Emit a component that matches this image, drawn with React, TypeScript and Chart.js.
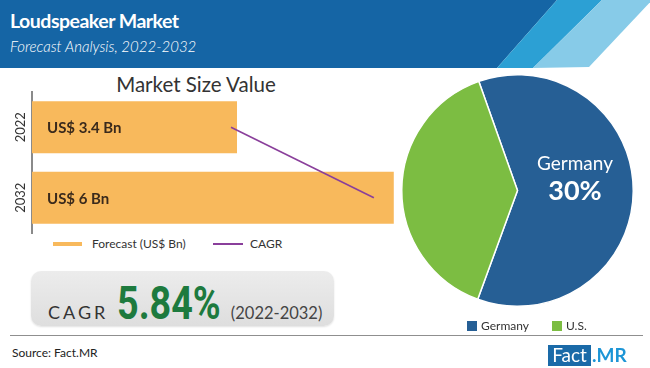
import React, { useEffect, useRef } from "react";
import { Chart, registerables } from "chart.js";

Chart.register(...registerables);

// ---- data ----
const years = ["2022", "2032"];
const forecastValues = [3.4, 6];
const cagrLineValues = [3.3, 5.67];
const barValueLabels = ["US$ 3.4 Bn", "US$ 6 Bn"];
const legendLabels = ["Forecast (US$ Bn)", "CAGR"];
const pieLabels = ["Germany", "U.S."];
const pieValues = [61, 39];
const germanyShareText = "30%";
const cagrText = "5.84%";
const cagrPeriod = "(2022-2032)";

const BAR_COLOR = "#f8b95c";
const LINE_COLOR = "#8a3f9b";
const PIE_COLORS = ["#265f95", "#7cbd42"];
const FONT = "Lato, 'Open Sans', sans-serif";

function BarChart() {
  const ref = useRef<HTMLCanvasElement | null>(null);
  useEffect(() => {
    if (!ref.current) return;
    const labelPlugin = {
      id: "barLabels",
      afterDatasetsDraw(chart: any) {
        const ctx = chart.ctx;
        const yScale = chart.scales.y;
        const area = chart.chartArea;
        ctx.save();
        ctx.fillStyle = "#3a2a1c";
        ctx.font = `bold 15px ${FONT}`;
        ctx.textBaseline = "middle";
        ctx.textAlign = "left";
        barValueLabels.forEach((t, i) => {
          ctx.fillText(t, area.left + 15, yScale.getPixelForValue(i) + 1);
        });
        ctx.fillStyle = "#333";
        ctx.font = `13px ${FONT}`;
        ctx.textAlign = "center";
        years.forEach((t, i) => {
          ctx.save();
          ctx.translate(area.left - 11, yScale.getPixelForValue(i));
          ctx.rotate(-Math.PI / 2);
          ctx.fillText(t, 0, 0);
          ctx.restore();
        });
        ctx.restore();
      },
    };
    const chart = new Chart(ref.current, {
      type: "bar",
      data: {
        labels: years,
        datasets: [
          {
            type: "line",
            label: legendLabels[1],
            data: cagrLineValues,
            borderColor: LINE_COLOR,
            borderWidth: 1.6,
            pointRadius: 0,
            indexAxis: "y",
            order: 0,
          } as any,
          {
            type: "bar",
            label: legendLabels[0],
            data: forecastValues,
            backgroundColor: BAR_COLOR,
            categoryPercentage: 1,
            barPercentage: 0.74,
            order: 1,
          },
        ],
      },
      options: {
        indexAxis: "y",
        animation: false,
        responsive: false,
        maintainAspectRatio: false,
        layout: { padding: { left: 32, right: 2, top: 2, bottom: 2 } },
        plugins: { legend: { display: false }, tooltip: { enabled: false } },
        scales: {
          x: { display: false, min: 0, max: 6.07 },
          y: {
            display: true,
            grid: { display: false, drawTicks: false },
            ticks: { display: false },
            border: { display: true, color: "#8a8a8a", width: 2 },
          },
        },
      },
      plugins: [labelPlugin],
    } as any);
    return () => chart.destroy();
  }, []);
  return (
    <canvas
      ref={ref}
      width={400}
      height={145}
      style={{ position: "absolute", left: 0, top: 90, width: 400, height: 145 }}
    />
  );
}

function PieChart() {
  const ref = useRef<HTMLCanvasElement | null>(null);
  useEffect(() => {
    if (!ref.current) return;
    const chart = new Chart(ref.current, {
      type: "pie",
      data: {
        labels: pieLabels,
        datasets: [
          {
            data: pieValues,
            backgroundColor: PIE_COLORS,
            borderColor: "#ffffff",
            borderWidth: 1.5,
          },
        ],
      },
      options: {
        animation: false,
        responsive: false,
        maintainAspectRatio: false,
        rotation: -19.5,
        layout: { padding: 6 },
        plugins: { legend: { display: false }, tooltip: { enabled: false } },
      },
    } as any);
    return () => chart.destroy();
  }, []);
  return (
    <canvas
      ref={ref}
      width={245}
      height={245}
      style={{ position: "absolute", left: 395, top: 68, width: 245, height: 245 }}
    />
  );
}

export default function App() {
  const abs = (s: React.CSSProperties): React.CSSProperties => ({ position: "absolute", ...s });
  return (
    <div
      style={{
        position: "fixed",
        left: 0,
        top: 0,
        width: 650,
        height: 368,
        background: "#fff",
        overflow: "hidden",
        fontFamily: FONT,
      }}
    >
      {/* header */}
      <div style={abs({ left: 0, top: 0, width: 650, height: 68, background: "#1565a5", clipPath: "polygon(0 0, 557px 0, 497px 68px, 0 68px)" })} />
      <div style={abs({ left: 0, top: 0, width: 650, height: 68, background: "#2ca0d4", clipPath: "polygon(557px 0, 602px 0, 533px 68px, 497px 68px)" })} />
      <div style={abs({ left: 0, top: 0, width: 650, height: 68, background: "#87cbe8", clipPath: "polygon(602px 0, 652px 0, 589px 67px, 533px 68px)" })} />
      <div style={abs({ left: 10, top: 9, color: "#fff", fontWeight: 700, fontSize: 19.5, letterSpacing: -0.5, lineHeight: "24px", whiteSpace: "nowrap" })}>
        Loudspeaker Market
      </div>
      <div style={abs({ left: 10, top: 36, color: "#fff", fontStyle: "italic", fontWeight: 300, fontSize: 15, lineHeight: "20px", whiteSpace: "nowrap" })}>
        Forecast Analysis, 2022-2032
      </div>

      {/* bar chart title */}
      <div style={abs({ left: 96, top: 72, width: 200, textAlign: "center", color: "#333", fontSize: 20.5, lineHeight: "24px", whiteSpace: "nowrap" })}>
        Market Size Value
      </div>

      <BarChart />

      {/* bar legend */}
      <div style={abs({ left: 53, top: 242, width: 29, height: 4, background: BAR_COLOR })} />
      <div style={abs({ left: 92, top: 236, fontSize: 12, lineHeight: "16px", color: "#333", whiteSpace: "nowrap" })}>{legendLabels[0]}</div>
      <div style={abs({ left: 213, top: 243, width: 30, height: 2, background: LINE_COLOR })} />
      <div style={abs({ left: 250, top: 236, fontSize: 12, lineHeight: "16px", color: "#333", whiteSpace: "nowrap" })}>{legendLabels[1]}</div>

      {/* CAGR box */}
      <div
        style={abs({
          left: 31,
          top: 271,
          width: 303,
          height: 55,
          borderRadius: 10,
          background: "linear-gradient(#ececec, #dedede)",
          boxShadow: "0 1px 2px rgba(0,0,0,0.12)",
        })}
      />
      <div style={abs({ left: 48, top: 276, height: 46, display: "flex", alignItems: "baseline", whiteSpace: "nowrap" })}>
        <span style={{ fontSize: 18, letterSpacing: 3, color: "#333" }}>CAGR</span>
        <span
          style={{
            display: "inline-block",
            marginLeft: 9,
            marginRight: -22,
            fontFamily: "Roboto, sans-serif",
            fontWeight: 700,
            fontSize: 46,
            color: "#1d7a3e",
            transform: "scaleX(0.82)",
            transformOrigin: "left bottom",
          }}
        >
          {cagrText}
        </span>
        <span style={{ marginLeft: 9, fontSize: 16.5, color: "#444" }}>{cagrPeriod}</span>
      </div>

      <PieChart />
      <div style={abs({ left: 535, top: 151, width: 80, textAlign: "center", color: "#fff", fontSize: 19, lineHeight: "24px", whiteSpace: "nowrap" })}>
        {pieLabels[0]}
      </div>
      <div style={abs({ left: 535, top: 174, width: 80, textAlign: "center", color: "#fff", fontSize: 27, fontWeight: 700, lineHeight: "32px" })}>
        {germanyShareText}
      </div>

      {/* pie legend */}
      <div style={abs({ left: 467, top: 321, width: 10, height: 10, background: PIE_COLORS[0] })} />
      <div style={abs({ left: 481, top: 318, fontSize: 12, lineHeight: "16px", color: "#333" })}>{pieLabels[0]}</div>
      <div style={abs({ left: 552, top: 321, width: 10, height: 10, background: PIE_COLORS[1] })} />
      <div style={abs({ left: 566, top: 318, fontSize: 12, lineHeight: "16px", color: "#333" })}>{pieLabels[1]}</div>

      {/* footer */}
      <div style={abs({ left: 10, top: 335, width: 633, height: 1, background: "#8f8f8f" })} />
      <div style={abs({ left: 12, top: 345, fontSize: 12, lineHeight: "16px", color: "#222", whiteSpace: "nowrap" })}>Source: Fact.MR</div>
      <div style={abs({ left: 548, top: 345, width: 43, height: 21, background: "#1a6aa8" })} />
      <div style={abs({ left: 548, top: 344, width: 43, textAlign: "center", fontSize: 19, lineHeight: "22px", color: "#fff" })}>Fact</div>
      <div style={abs({ left: 592, top: 344, fontSize: 19, fontWeight: 700, lineHeight: "22px", color: "#1c95d6" })}>.MR</div>
    </div>
  );
}
